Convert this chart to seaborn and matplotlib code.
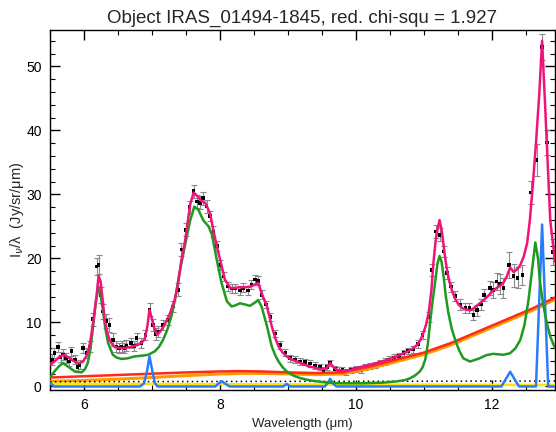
import numpy as np
import pandas as pd
import matplotlib
matplotlib.use("Agg")
import matplotlib.pyplot as plt
from matplotlib.ticker import MultipleLocator
import seaborn as sns

# ---------------- data ----------------
title = "Object IRAS_01494-1845, red. chi-squ = 1.927"

data_wave = [5.52, 5.56, 5.61, 5.65, 5.69, 5.73, 5.77, 5.81, 5.86, 5.90, 5.93, 5.98,
             6.03, 6.08, 6.13, 6.18, 6.21, 6.25, 6.28, 6.32, 6.37, 6.42, 6.47, 6.51,
             6.55, 6.59, 6.62, 6.69, 6.73, 6.77, 6.84, 6.90, 6.96, 7.01, 7.05, 7.09,
             7.16, 7.23, 7.31, 7.38, 7.43, 7.49, 7.55, 7.61, 7.66, 7.70, 7.75, 7.80,
             7.85, 7.90, 7.95, 8.00, 8.05, 8.12, 8.17, 8.22, 8.29, 8.34, 8.41, 8.46,
             8.51, 8.56, 8.61, 8.68, 8.74, 8.81, 8.88, 8.96, 9.03, 9.10, 9.18, 9.25,
             9.32, 9.40, 9.47, 9.52, 9.57, 9.62, 9.69, 9.75, 9.80, 9.86, 9.93, 10.00,
             10.07, 10.14, 10.21, 10.28, 10.35, 10.42, 10.49, 10.56, 10.63, 10.70,
             10.77, 10.84, 10.91, 10.98, 11.07, 11.12, 11.18, 11.23, 11.29, 11.34,
             11.40, 11.46, 11.53, 11.61, 11.67, 11.73, 11.78, 11.84, 11.88, 11.97,
             12.02, 12.07, 12.12, 12.17, 12.25, 12.32, 12.38, 12.45, 12.57, 12.66,
             12.74, 12.81, 12.90]
data_flux = [4.2, 5.2, 6.2, 4.6, 5.0, 4.5, 3.9, 5.5, 4.2, 3.0, 3.4, 6.0,
             5.2, 6.25, 10.5, 18.75, 19.0, 14.3, 11.7, 10.2, 9.6, 7.3, 6.25, 6.0,
             6.25, 6.0, 6.4, 6.8, 6.3, 7.6, 6.8, 8.0, 12.0, 9.6, 8.2, 8.6,
             9.6, 10.4, 12.5, 15.1, 21.4, 24.5, 28.0, 30.5, 28.9, 28.7, 29.4, 28.1,
             26.6, 24.2, 21.9, 19.0, 17.2, 15.6, 15.3, 15.3, 15.0, 15.4, 15.0, 15.9,
             16.7, 16.5, 14.3, 12.8, 10.9, 8.3, 6.5, 5.3, 4.4, 4.2, 3.9, 3.8,
             3.6, 3.3, 3.0, 2.5, 3.0, 3.65, 2.7, 2.5, 2.6, 2.3, 2.6, 2.7,
             2.6, 3.0, 3.2, 3.4, 3.7, 3.9, 4.2, 4.5, 4.8, 5.2,
             5.5, 5.8, 6.6, 8.0, 10.9, 18.2, 24.2, 23.7, 21.1, 17.7,
             15.6, 14.1, 12.8, 12.3, 12.3, 11.2, 11.9, 12.8, 14.3, 15.4,
             15.1, 16.4, 16.0, 15.4, 19.0, 17.3, 17.0, 17.4, 30.3, 35.4,
             53.0, 38.1, 21.0]
data_err = [0.9, 0.8, 0.8, 0.8, 0.8, 0.8, 0.7, 0.7, 0.7, 0.7, 0.7, 0.8,
            0.8, 0.8, 1.0, 1.3, 1.5, 1.2, 1.2, 1.1, 1.1, 1.0, 0.9, 0.8,
            0.8, 0.8, 0.8, 0.8, 0.8, 0.8, 0.8, 0.8, 1.0, 0.9, 0.9, 0.8,
            0.8, 0.8, 0.9, 1.0, 1.0, 1.0, 1.0, 1.0, 1.0, 1.0, 1.0, 1.0,
            0.8, 0.8, 0.8, 0.8, 0.7, 0.7, 0.7, 0.7, 0.7, 0.7, 0.7, 0.7,
            0.7, 0.7, 0.7, 0.6, 0.6, 0.6, 0.6, 0.5, 0.5, 0.5, 0.5, 0.5,
            0.5, 0.5, 0.5, 0.5, 0.5, 0.5, 0.5, 0.5, 0.5, 0.5, 0.5, 0.5,
            0.5, 0.5, 0.5, 0.5, 0.5, 0.5, 0.5, 0.5, 0.5, 0.5,
            0.5, 0.5, 0.6, 0.6, 0.8, 0.9, 1.0, 1.0, 0.9, 0.9,
            0.8, 0.8, 0.8, 0.8, 0.8, 0.8, 0.9, 0.9, 1.0, 1.1,
            1.2, 1.3, 1.5, 1.5, 2.0, 1.8, 1.6, 1.6, 1.8, 2.5,
            2.0, 2.0, 2.0]

total_wave = [5.495, 5.56, 5.63, 5.70, 5.76, 5.81, 5.87, 5.93, 5.98, 6.03, 6.07, 6.10,
              6.14, 6.18, 6.21, 6.24, 6.27, 6.30, 6.34, 6.37, 6.41, 6.45, 6.52, 6.59,
              6.69, 6.79, 6.85, 6.89, 6.93, 6.96, 6.99, 7.03, 7.07, 7.12, 7.18, 7.25,
              7.33, 7.38, 7.43, 7.48, 7.52, 7.56, 7.61, 7.66, 7.72, 7.78, 7.85, 7.92,
              7.96, 8.00, 8.07, 8.15, 8.22, 8.29, 8.37, 8.44, 8.51, 8.56, 8.61, 8.69,
              8.76, 8.81, 8.86, 8.92, 8.98, 9.05, 9.13, 9.22, 9.32, 9.41, 9.50, 9.56,
              9.62, 9.67, 9.72, 9.79, 9.86, 9.93, 10.01, 10.13, 10.26, 10.38, 10.50,
              10.62, 10.75, 10.83, 10.90, 10.95, 10.99, 11.03, 11.07, 11.11, 11.14,
              11.17, 11.19, 11.23, 11.26, 11.28, 11.31, 11.34, 11.37, 11.41, 11.46,
              11.51, 11.57, 11.63, 11.68, 11.73, 11.80, 11.88, 11.95, 12.02, 12.10,
              12.17, 12.22, 12.27, 12.32, 12.37, 12.42, 12.47, 12.52, 12.56, 12.60,
              12.65, 12.70, 12.74, 12.78, 12.82, 12.86, 12.93]
total_flux = [3.4, 3.9, 4.6, 4.95, 4.6, 4.2, 3.8, 3.65, 3.9, 4.7, 6.0, 7.8,
              10.8, 14.1, 17.3, 16.4, 13.6, 10.4, 8.4, 7.3, 6.6, 6.15, 6.0, 6.0,
              6.2, 6.5, 6.9, 7.4, 9.5, 12.0, 10.8, 9.1, 8.1, 8.6, 9.6, 11.1,
              13.5, 16.0, 19.8, 22.5, 25.5, 28.5, 30.3, 29.8, 29.0, 28.7, 27.1, 23.4,
              21.5, 19.8, 16.7, 15.4, 15.4, 15.5, 15.5, 15.6, 15.9, 16.2, 14.6, 12.5,
              9.4, 7.6, 6.25, 5.3, 4.7, 4.2, 3.9, 3.5, 3.1, 2.9, 2.7, 2.8,
              3.65, 3.0, 2.6, 2.5, 2.5, 2.6, 2.9, 3.2, 3.5, 3.9, 4.3,
              4.8, 5.4, 5.9, 6.5, 7.3, 8.3, 9.6, 11.5, 15.0, 19.3,
              22.5, 24.0, 26.0, 24.5, 22.9, 20.3, 18.2, 16.6, 15.1, 13.7,
              12.8, 12.2, 12.0, 11.9, 12.2, 12.8, 13.5, 14.2, 15.0, 15.6,
              16.2, 17.2, 18.6, 17.9, 18.3, 19.0, 20.3, 22.4, 26.0, 31.0,
              38.0, 46.0, 54.0, 45.0, 35.5, 26.0, 19.5]

pah_wave = [5.495, 5.56, 5.63, 5.69, 5.76, 5.86, 5.96, 6.01, 6.05, 6.09, 6.13, 6.17,
            6.21, 6.24, 6.28, 6.31, 6.35, 6.42, 6.48, 6.55, 6.64, 6.74, 6.84, 6.94,
            7.04, 7.10, 7.16, 7.22, 7.28, 7.34, 7.40, 7.48, 7.52, 7.56, 7.62, 7.68,
            7.75, 7.83, 7.88, 7.95, 8.02, 8.10, 8.17, 8.23, 8.29, 8.37, 8.44, 8.51,
            8.56, 8.61, 8.69, 8.76, 8.81, 8.86, 8.92, 8.98, 9.08, 9.18, 9.30, 9.42,
            9.60, 9.77, 10.11, 10.40, 10.60, 10.72, 10.80, 10.88, 10.94, 10.98, 11.02,
            11.06, 11.09, 11.13, 11.17, 11.20, 11.23, 11.26, 11.29, 11.32, 11.36,
            11.41, 11.46, 11.52, 11.58, 11.68, 11.82, 11.92, 12.02, 12.17, 12.27,
            12.35, 12.42, 12.48, 12.54, 12.59, 12.64, 12.68, 12.71, 12.76, 12.81,
            12.86, 12.93]
pah_flux = [1.4, 2.35, 3.2, 3.65, 3.1, 2.35, 2.2, 2.7, 3.65, 5.8, 9.4, 13.2,
            15.6, 14.3, 11.5, 9.0, 6.8, 4.95, 4.5, 4.3, 4.4, 4.7, 4.8, 4.95,
            5.5, 6.2, 7.3, 8.8, 10.9, 13.8, 17.7, 21.9, 24.0, 26.0, 28.1, 27.6,
            26.0, 25.0, 23.7, 19.8, 16.2, 13.3, 12.5, 12.7, 13.0, 12.8, 12.6, 13.1,
            13.5, 12.5, 9.4, 6.25, 4.9, 3.9, 3.0, 2.35, 1.7, 1.3, 1.0, 0.8,
            0.6, 0.5, 0.5, 0.6, 0.8, 1.0, 1.3, 1.8, 2.35, 3.0, 4.2,
            6.8, 9.9, 13.5, 16.7, 19.2, 20.4, 19.5, 17.2, 14.3, 11.5,
            9.0, 7.3, 5.6, 4.4, 3.9, 4.4, 4.9, 5.1, 4.95, 5.2,
            6.0, 7.3, 9.6, 13.5, 18.0, 22.5, 20.0, 16.2, 12.6, 9.9,
            7.8, 6.0]

line_wave = [5.495, 5.53, 5.56, 6.82, 6.88, 6.92, 6.96, 7.00, 7.04, 7.08,
             7.93, 7.98, 8.03, 8.08, 8.14, 8.93, 8.98, 9.03,
             9.54, 9.58, 9.62, 9.66, 9.71, 12.14, 12.27, 12.40,
             12.65, 12.74, 12.83, 12.93]
line_flux = [0.6, 0.25, 0.0, 0.0, 0.5, 2.2, 4.7, 2.5, 0.5, 0.0,
             0.0, 0.5, 0.8, 0.4, 0.0, 0.0, 0.4, 0.0,
             0.0, 0.5, 1.2, 0.5, 0.0, 0.0, 2.3, 0.0,
             0.0, 25.3, 0.0, 0.0]

cont_wave = [5.495, 6.0, 6.5, 7.0, 7.5, 8.0, 8.3, 8.6, 9.0, 9.4, 9.8, 10.2,
             10.6, 11.0, 11.4, 11.8, 12.2, 12.6, 12.93]
cont_red = [1.4, 1.6, 1.8, 2.0, 2.2, 2.35, 2.4, 2.35, 2.2, 2.1, 2.2, 3.1,
            4.2, 5.3, 6.8, 8.6, 10.4, 12.2, 13.9]
cont_orange = [0.8, 0.95, 1.15, 1.4, 1.7, 1.95, 2.05, 2.05, 1.95, 1.85, 1.95, 2.8,
               3.9, 5.0, 6.5, 8.3, 10.1, 11.9, 13.6]

star_wave = [5.495, 9.5, 12.93]
star_flux = [0.45, 0.3, 0.25]

ext_wave = [5.495, 12.93]
ext_flux = [0.75, 0.85]

x_major = [6, 8, 10, 12]
y_major = [0, 10, 20, 30, 40, 50]

# ---------------- plotting ----------------
sns.set_style("ticks")
plt.rcParams['font.family'] = ['Liberation Sans', 'DejaVu Sans']
plt.rcParams['axes.linewidth'] = 1.0

fig = plt.figure(figsize=(5.56, 4.32), dpi=100)
ax = fig.add_axes([50/556, 42/432, 505/556, 360/432])

ax.errorbar(data_wave, data_flux, yerr=data_err, fmt='none', ecolor='#8a8a8a',
            elinewidth=0.8, capsize=2.5, capthick=0.8, zorder=2)
sns.scatterplot(x=data_wave, y=data_flux, marker='s', s=7, color='black',
                edgecolor='none', ax=ax, zorder=3)

def curve(xv, yv, color, lw=1.8, ls='-', z=4):
    sns.lineplot(x=xv, y=yv, color=color, lw=lw, linestyle=ls, estimator=None,
                 sort=False, ax=ax, zorder=z)

curve(cont_wave, cont_orange, '#ff9a00', lw=2.2, z=4)
curve(cont_wave, cont_red, '#ff2a1a', lw=1.8, z=5)
curve(star_wave, star_flux, '#ffe600', lw=1.8, z=4)
curve(ext_wave, ext_flux, 'black', lw=1.1, ls=(0, (1, 2.2)), z=4)
curve(line_wave, line_flux, '#2b7bff', lw=1.8, z=5)
curve(pah_wave, pah_flux, '#1f9a1f', lw=1.8, z=6)
curve(total_wave, total_flux, '#f0147a', lw=1.8, z=7)

ax.set_xlim(5.495, 12.93)
ax.set_ylim(-0.55, 55.7)
ax.set_xticks(x_major)
ax.set_yticks(y_major)
ax.xaxis.set_minor_locator(MultipleLocator(0.5))
ax.yaxis.set_minor_locator(MultipleLocator(2))
ax.tick_params(which='both', direction='in', top=True, right=True, colors='black',
               labelsize=10)
ax.tick_params(which='major', length=7, width=1.0, pad=6)
ax.tick_params(which='minor', length=3.5, width=0.8)
for s in ax.spines.values():
    s.set_visible(True)
    s.set_color('black')

ax.set_title(title, fontsize=13.5, pad=5)
ax.set_xlabel('Wavelength (\u03bcm)', fontsize=9.5, labelpad=4)
ax.set_ylabel('I$_\\nu$/\u03bb  (Jy/sr/\u03bcm)', fontsize=10.5)
ax.yaxis.set_label_coords(-0.048, 0.5)

fig.savefig('out.png', dpi=100)
